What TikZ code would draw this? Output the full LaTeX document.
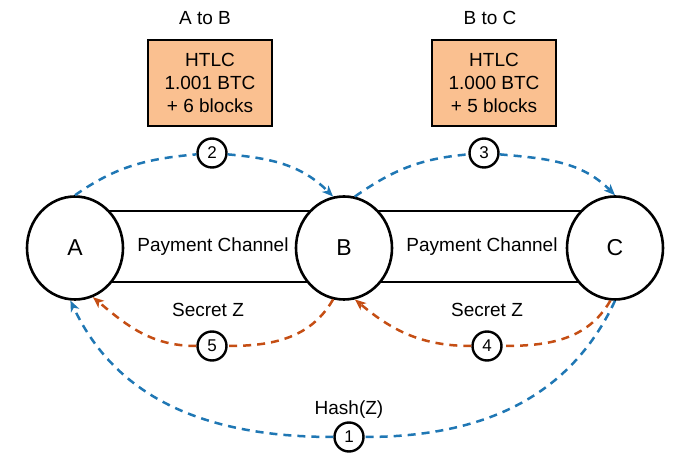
\documentclass[tikz,border=0pt]{standalone}
\usepackage{fontspec}
\setmainfont{Liberation Sans}
\usetikzlibrary{shapes.geometric}
\usetikzlibrary{arrows.meta}
\definecolor{htlcfill}{RGB}{250,192,144}
\definecolor{lockblue}{RGB}{31,119,180}
\definecolor{secretred}{RGB}{197,78,20}

\begin{document}
\begin{tikzpicture}[x=1pt,y=1pt,>={Stealth[length=11pt,width=9pt,inset=3pt]},
    font=\fontsize{19}{23}\selectfont,
    party/.style={ellipse,draw,line width=2.6pt,fill=white,minimum width=96pt,minimum height=103pt,inner sep=0pt,font=\fontsize{23}{23}\selectfont},
    chan/.style={draw,line width=2.6pt,minimum width=269pt,minimum height=71pt},
    htlc/.style={draw,line width=2.6pt,fill=htlcfill,minimum width=124pt,minimum height=86pt,align=center},
    num/.style={circle,draw,line width=2.4pt,fill=white,minimum size=29pt,inner sep=0pt,font=\fontsize{17}{17}\selectfont},
    hop/.style={line width=2.5pt,dash pattern=on 8pt off 6pt}]
  \useasboundingbox (0,0) rectangle (691,471);
  % channels first, parties drawn over them
  \node[chan] (chAB) at (209.5,224.5) {};
  \node[chan] (chBC) at (479.5,224.5) {};
  \node[party] (A) at (75,223) {A};
  \node[party] (B) at (344,223) {B};
  \node[party] (C) at (615,223) {C};
  \node (payAB) at (213,224) {Payment Channel};
  \node (payBC) at (482,224) {Payment Channel};
  % contracts
  \node[htlc] (htlcAB) at (210,388) {HTLC\\1.001 BTC\\+ 6 blocks};
  \node[htlc] (htlcBC) at (494,388) {HTLC\\1.000 BTC\\+ 5 blocks};
  \node (dirAB) at (205,453) {A to B};
  \node (dirBC) at (490,453) {B to C};
  % steps
  \node[num] (n1) at (349,34) {1};
  \node[num] (n2) at (212,318) {2};
  \node[num] (n3) at (484,318) {3};
  \node[num] (n4) at (487,125) {4};
  \node[num] (n5) at (212,125) {5};
  \node (secAB) at (208,161) {Secret Z};
  \node (secBC) at (487,161) {Secret Z};
  \node (hash) at (349,61) {Hash(Z)};

  \draw[hop,lockblue] (A.north) to[out=35,in=185] (n2);
  \draw[hop,lockblue,->] (n2) to[out=-5,in=135] (B.102);
  \draw[hop,lockblue] (B.78) to[out=35,in=185] (n3);
  \draw[hop,lockblue,->] (n3) to[out=-5,in=135] (C.north);
  \draw[hop,secretred] (C.265) to[out=-120,in=0] (n4);
  \draw[hop,secretred,->] (n4) to[out=180,in=-40] (B.282);
  \draw[hop,secretred] (B.258) to[out=-120,in=0] (n5);
  \draw[hop,secretred,->] (n5) to[out=180,in=-40] (A.290);
  \draw[hop,lockblue] (C.south) to[out=-115,in=0] (n1);
  \draw[hop,lockblue,->] (n1) to[out=180,in=-65] (A.265);
\end{tikzpicture}
\end{document}
